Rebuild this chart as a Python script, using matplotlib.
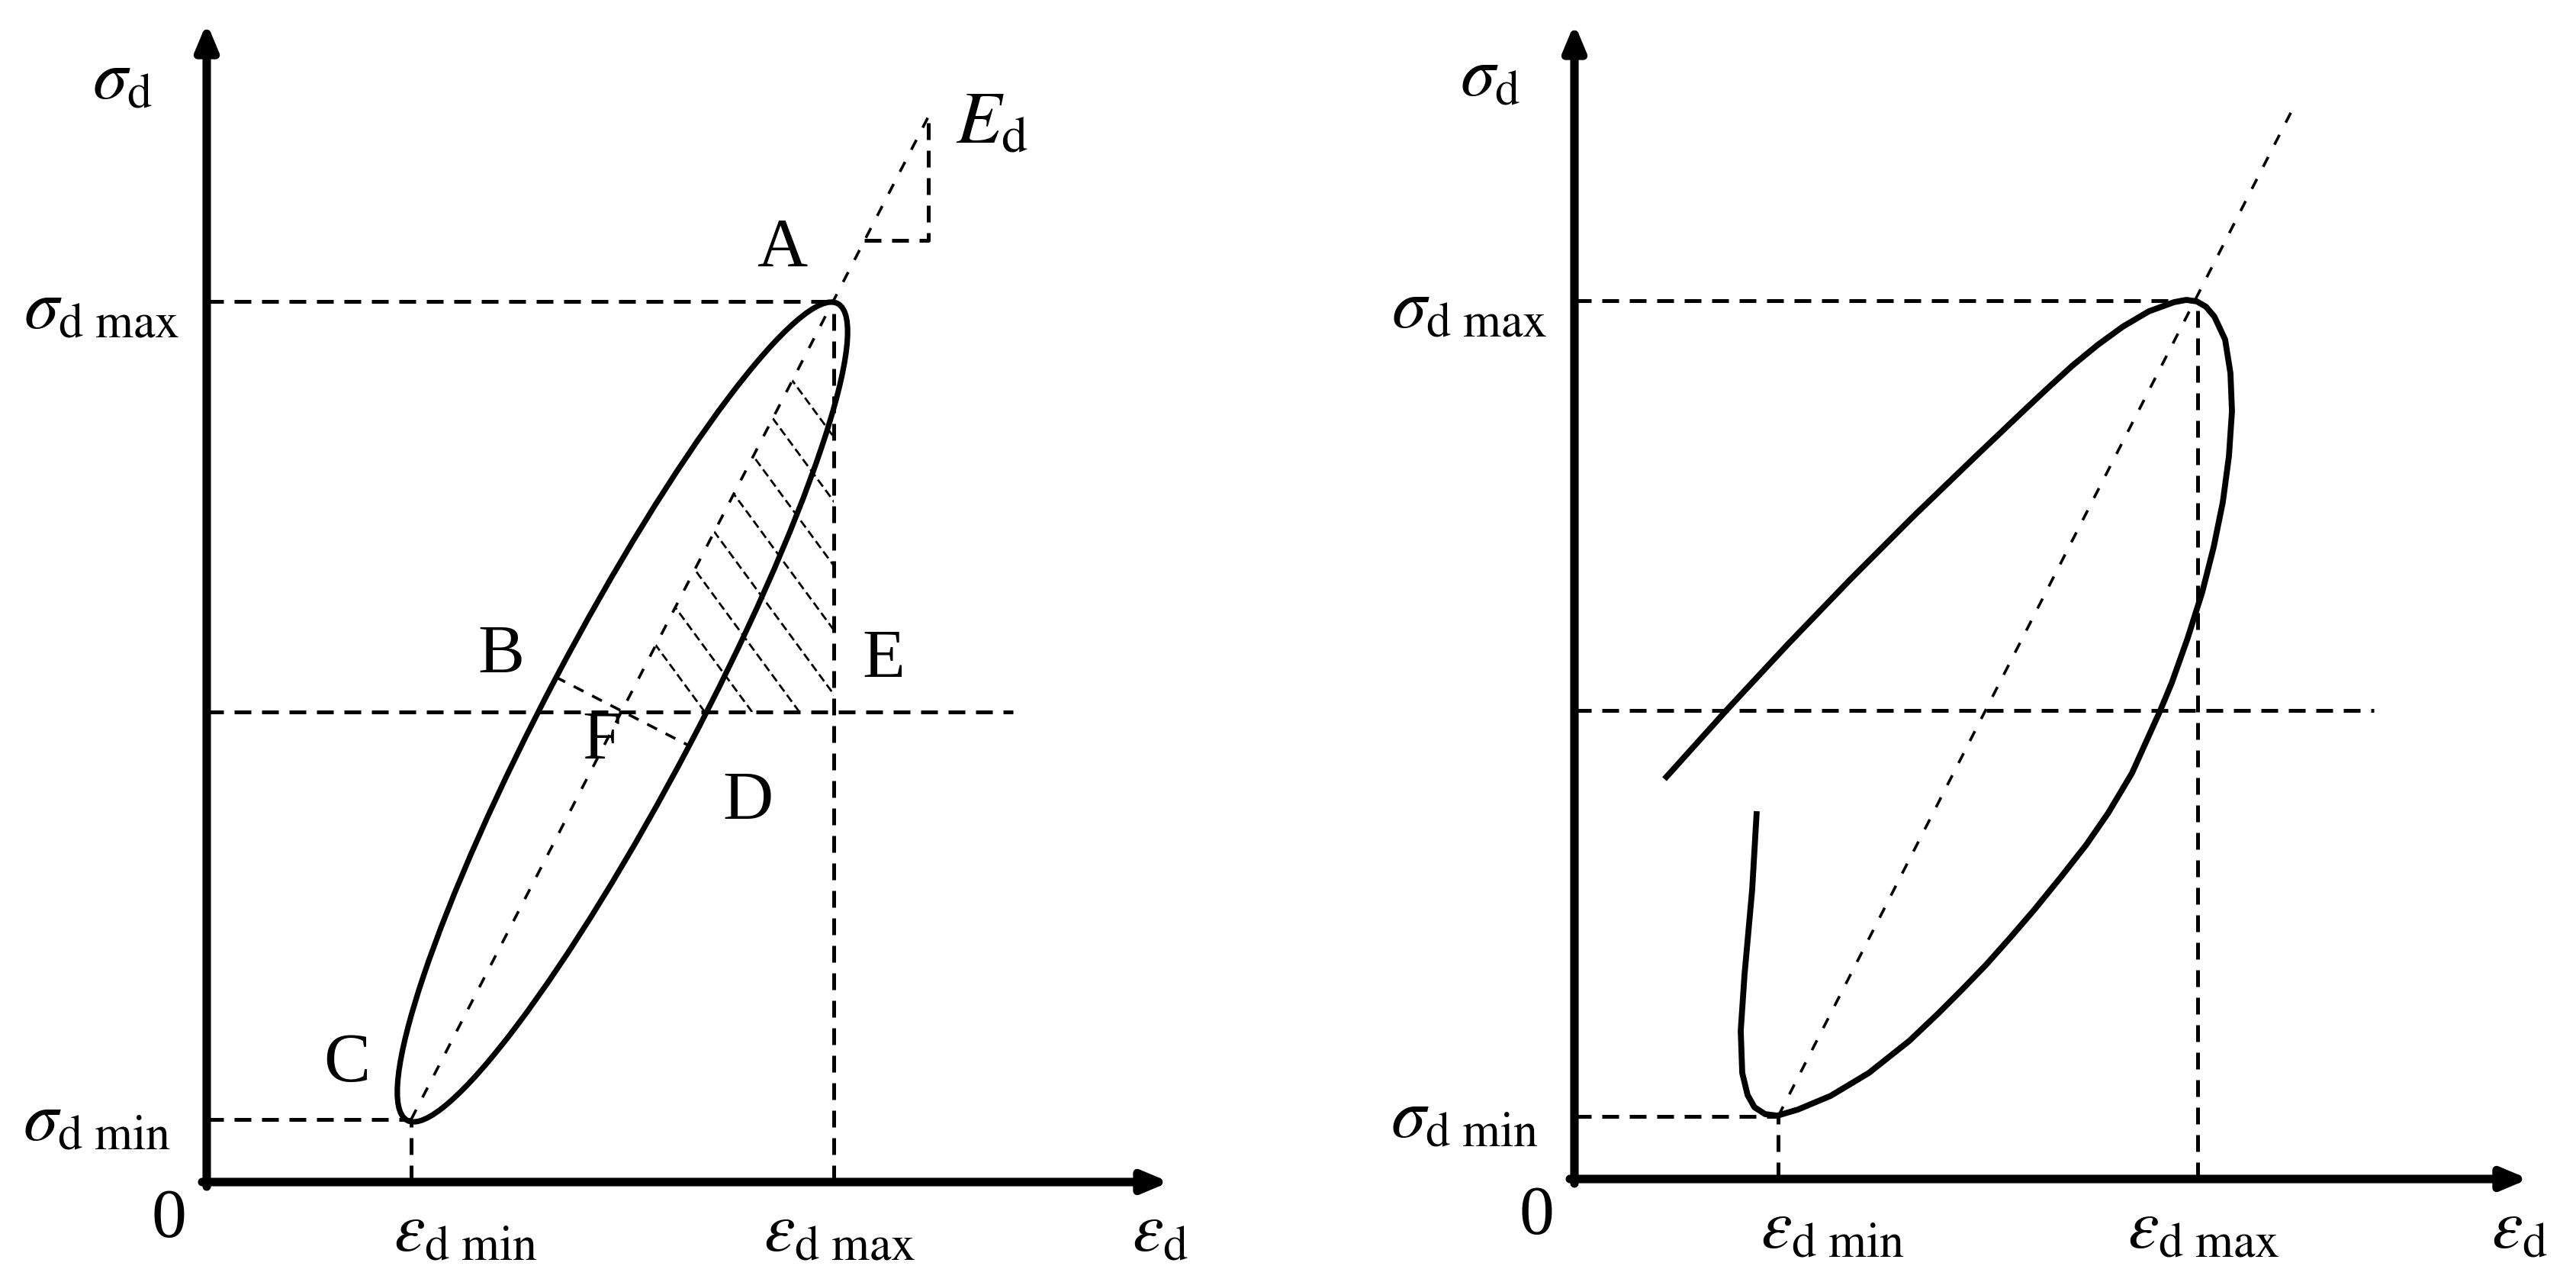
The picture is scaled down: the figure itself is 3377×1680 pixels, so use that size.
import numpy as np
import matplotlib.pyplot as plt
from matplotlib.patches import Ellipse, Polygon

plt.rcParams['font.family'] = ['Liberation Serif', 'DejaVu Serif']
plt.rcParams['mathtext.fontset'] = 'stix'

# ---- left panel (1 unit = 100 px of the figure) ----
eps_min_l, eps_max_l = 2.68, 8.22
sig_min_l, sig_mid_l, sig_max_l = 0.82, 6.16, 11.54
x_end_l, y_end_l = 12.62, 15.19
mid_end_l = 10.57
diag_l_x = [2.68, 9.46]
diag_l_y = [0.82, 13.96]
loop_center = (5.45, 6.16)
loop_width, loop_height, loop_angle = 12.1, 1.96, 62.2
bd_x = [4.57, 6.32]
bd_y = [6.62, 5.72]
ed_tri_x = [8.62, 9.46, 9.46]
ed_tri_y = [12.34, 12.34, 13.96]
hatch_x0 = [6.53, 7.15, 7.77, 8.39, 9.01, 9.63, 10.25, 10.87]
hatch_slope = 1.36
point_labels = ['A', 'B', 'C', 'D', 'E', 'F']
point_x = [7.54, 3.86, 1.84, 7.09, 8.87, 5.18]
point_y = [12.22, 6.89, 1.54, 4.97, 6.83, 5.76]

# ---- right panel ----
eps_min_r, eps_max_r = 2.67, 8.17
sig_min_r, sig_mid_r, sig_max_r = 0.82, 6.14, 11.51
x_end_r, y_end_r = 12.51, 15.14
mid_end_r = 10.48
diag_r_x = [2.67, 9.41]
diag_r_y = [0.82, 14.01]
curve_x = [1.18, 2.00, 2.81, 3.62, 4.44, 5.25, 5.86, 6.19, 6.53, 6.86, 7.19, 7.53,
           7.86, 8.02, 8.16, 8.28, 8.39, 8.53, 8.60, 8.62, 8.58, 8.50, 8.38, 8.23,
           8.04, 7.83, 7.68, 7.31, 7.00, 6.71, 6.38, 6.03, 5.72, 5.39, 5.08, 4.77,
           4.39, 3.86, 3.36, 2.93, 2.66, 2.50, 2.36, 2.27, 2.20, 2.18, 2.23, 2.33, 2.39]
curve_y = [5.24, 6.15, 7.02, 7.86, 8.68, 9.46, 10.04, 10.35, 10.66, 10.93, 11.17, 11.37,
           11.49, 11.52, 11.50, 11.43, 11.30, 11.00, 10.56, 10.06, 9.47, 8.87, 8.28, 7.69,
           7.09, 6.50, 6.14, 5.32, 4.80, 4.38, 3.96, 3.53, 3.17, 2.80, 2.48, 2.17,
           1.81, 1.39, 1.09, 0.91, 0.83, 0.85, 0.94, 1.10, 1.39, 1.94, 2.68, 3.79, 4.82]

FS = 33
dash_style = dict(color='k', lw=1.8, dashes=(4.4, 2.8))
fine_style = dict(color='k', lw=1.3, dashes=(4, 5))

fig = plt.figure(figsize=(3377 / 200, 1680 / 200), dpi=200)
ax_l = fig.add_axes([0, 0, 1650 / 3377, 1])
ax_l.set_xlim(-2.71, -2.71 + 16.50)
ax_l.set_ylim(-1.31, -1.31 + 16.80)
ax_r = fig.add_axes([1650 / 3377, 0, 1727 / 3377, 1])
ax_r.set_xlim(-4.14, -4.14 + 17.27)
ax_r.set_ylim(-1.35, -1.35 + 16.80)


def draw_frame(ax, x_end, y_end, eps_min, eps_max, sig_min, sig_mid, sig_max, mid_end):
    ax.axis('off')
    arrow = dict(arrowstyle='-|>,head_length=1.0,head_width=0.42', lw=4, color='k',
                 mutation_scale=10, shrinkA=0, shrinkB=0)
    ax.annotate('', xy=(x_end, 0), xytext=(-0.06, 0), arrowprops=arrow)
    ax.annotate('', xy=(0, y_end), xytext=(0, -0.06), arrowprops=arrow)
    ax.plot([0, eps_max], [sig_max, sig_max], **dash_style)
    ax.plot([0, eps_min], [sig_min, sig_min], **dash_style)
    ax.plot([0, mid_end], [sig_mid, sig_mid], **dash_style)
    ax.plot([eps_min, eps_min], [0, sig_min], **dash_style)
    ax.plot([eps_max, eps_max], [0, sig_max], **dash_style)
    ax.text(-1.1, 14.42, r'$\sigma_{\mathrm{d}}$', fontsize=FS, ha='center', va='center')
    ax.text(-0.36, sig_max - 0.13, r'$\sigma_{\mathrm{d\ max}}$', fontsize=FS,
            ha='right', va='center')
    ax.text(-0.47, sig_min - 0.05, r'$\sigma_{\mathrm{d\ min}}$', fontsize=FS,
            ha='right', va='center')
    ax.text(-0.5, -0.5, '0', fontsize=FS, ha='center', va='center')
    ax.text(eps_min + 0.72, -0.68, r'$\varepsilon_{\mathrm{d\ min}}$', fontsize=FS,
            ha='center', va='center')
    ax.text(eps_max + 0.08, -0.68, r'$\varepsilon_{\mathrm{d\ max}}$', fontsize=FS,
            ha='center', va='center')
    ax.text(x_end - 0.12, -0.68, r'$\varepsilon_{\mathrm{d}}$', fontsize=FS,
            ha='center', va='center')


# left panel
draw_frame(ax_l, x_end_l, y_end_l, eps_min_l, eps_max_l,
           sig_min_l, sig_mid_l, sig_max_l, mid_end_l)
ax_l.plot(diag_l_x, diag_l_y, **fine_style)
ax_l.plot(ed_tri_x, ed_tri_y, **dash_style)
ax_l.plot(bd_x, bd_y, color='k', lw=1.3, dashes=(4, 3.5))

slope_l = (diag_l_y[1] - diag_l_y[0]) / (diag_l_x[1] - diag_l_x[0])
f_x = diag_l_x[0] + (sig_mid_l - diag_l_y[0]) / slope_l
a_y = diag_l_y[0] + (eps_max_l - diag_l_x[0]) * slope_l
tri = Polygon([(f_x, sig_mid_l), (eps_max_l, a_y), (eps_max_l, sig_mid_l)],
              closed=True, fc='none', ec='none')
ax_l.add_patch(tri)
for x0 in hatch_x0:
    h, = ax_l.plot([x0, x0 - (a_y - sig_mid_l) / hatch_slope], [sig_mid_l, a_y],
                   color='k', lw=1.0, dashes=(4, 2))
    h.set_clip_path(tri)

ax_l.add_patch(Ellipse(loop_center, loop_width, loop_height, angle=loop_angle,
                       fc='none', ec='k', lw=2.6, zorder=5))
for lab, px, py in zip(point_labels, point_x, point_y):
    ax_l.text(px, py, lab, fontsize=FS, ha='center', va='center')
ax_l.text(9.82, 13.85, r'$E_{\mathrm{d}}$', fontsize=FS + 2, ha='left', va='center')

# right panel
draw_frame(ax_r, x_end_r, y_end_r, eps_min_r, eps_max_r,
           sig_min_r, sig_mid_r, sig_max_r, mid_end_r)
ax_r.plot(diag_r_x, diag_r_y, **fine_style)
ax_r.plot(curve_x, curve_y, color='k', lw=2.8, solid_joinstyle='round',
          solid_capstyle='butt', zorder=5)

fig.savefig('out.png', dpi=200, facecolor='white')
